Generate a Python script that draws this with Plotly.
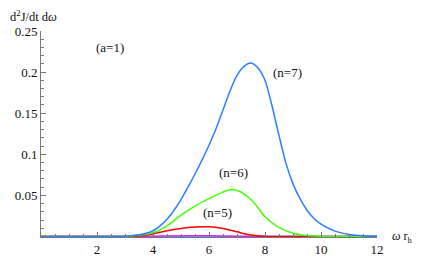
import plotly.graph_objects as go

# omega * r_h sample points and d2J/dt dw values
x_n7 = [0, 2, 2.5, 3, 3.5, 4, 4.25, 4.5, 4.75, 5, 5.25, 5.5, 5.75, 6, 6.25, 6.5, 6.75, 7, 7.25, 7.5,
        7.75, 8, 8.25, 8.5, 8.75, 9, 9.25, 9.5, 9.75, 10, 10.5, 11, 11.5, 12]
y_n7 = [0, 0, 0.0001, 0.0004, 0.002, 0.007, 0.013, 0.021, 0.032, 0.045, 0.060, 0.076, 0.093, 0.111, 0.131,
        0.154, 0.177, 0.196, 0.207, 0.211, 0.205, 0.190, 0.159, 0.123, 0.089, 0.064, 0.046, 0.032, 0.022,
        0.015, 0.0065, 0.0025, 0.0008, 0.0002]

x_n6 = [0, 2.5, 3, 3.5, 4, 4.5, 5, 5.5, 6, 6.5, 6.75, 7, 7.25, 7.5, 7.75, 8, 8.5, 9, 9.5, 10, 10.5, 12]
y_n6 = [0, 0, 0.0003, 0.0015, 0.0045, 0.013, 0.026, 0.037, 0.046, 0.054, 0.057, 0.056, 0.052, 0.045,
        0.035, 0.024, 0.011, 0.004, 0.0012, 0.0003, 0, 0]

x_n5 = [0, 3, 3.5, 4, 4.5, 5, 5.5, 6, 6.5, 7, 7.5, 8, 8.5, 12]
y_n5 = [0, 0, 0.0005, 0.003, 0.007, 0.0098, 0.0115, 0.0118, 0.0097, 0.0057, 0.0018, 0.0003, 0, 0]

x_n4 = [0, 3, 4, 5, 5.5, 6, 7, 8, 9, 12]
y_n4 = [0, 0, 0.0004, 0.0009, 0.001, 0.0009, 0.0004, 0.0001, 0, 0]

x_n3 = [0, 3, 4, 5, 6, 7, 8, 12]
y_n3 = [0, 0, 0.0001, 0.0002, 0.0002, 0.0001, 0, 0]

x_ticks = [2, 4, 6, 8, 10, 12]
y_ticks = [0.05, 0.1, 0.15, 0.2, 0.25]
y_tick_text = ["0.05", "0.1", "0.15", "0.2", "0.25"]

FONT = "Liberation Serif"

fig = go.Figure()
series = [
    (x_n3, y_n3, "#00e5ff"),
    (x_n4, y_n4, "#e020ff"),
    (x_n5, y_n5, "#ff0000"),
    (x_n6, y_n6, "#44ff00"),
    (x_n7, y_n7, "#2b7fff"),
]
for xs, ys, c in series:
    fig.add_trace(go.Scatter(x=xs, y=ys, mode="lines",
                             line=dict(color=c, width=1.5, shape="spline", smoothing=0.7),
                             showlegend=False, hoverinfo="skip"))

axis_common = dict(showgrid=False, zeroline=False, showline=True, linecolor="#777777",
                   linewidth=1, ticks="inside", tickcolor="#777777", ticklen=5, automargin=False,
                   tickfont=dict(family=FONT, size=13, color="#111111"))

fig.update_xaxes(range=[0, 12], tickvals=x_ticks, ticktext=[str(v) for v in x_ticks],
                 minor=dict(ticks="inside", dtick=0.5, ticklen=3, tickcolor="#777777"),
                 **axis_common)
fig.update_yaxes(range=[-0.0006, 0.25], tickvals=y_ticks, ticktext=y_tick_text,
                 minor=dict(ticks="inside", tickvals=[i / 100 for i in range(1, 25)], ticklen=3,
                            tickcolor="#777777"),
                 **axis_common)

ann_font = dict(family=FONT, size=13, color="#111111")
fig.add_annotation(x=2.46, y=0.230, text="(a=1)", showarrow=False, font=ann_font)
fig.add_annotation(x=8.79, y=0.199, text="(n=7)", showarrow=False, font=ann_font)
fig.add_annotation(x=6.86, y=0.078, text="(n=6)", showarrow=False, font=ann_font)
fig.add_annotation(x=6.29, y=0.029, text="(n=5)", showarrow=False, font=ann_font)
fig.add_annotation(xref="paper", yref="paper", x=0, y=1.0, xshift=-33, yshift=15, xanchor="left",
                   yanchor="middle", text="d<sup>2</sup>J/dt d<i>ω</i>", showarrow=False,
                   font=dict(family=FONT, size=12.5, color="#111111"))
fig.add_annotation(xref="paper", yref="paper", x=1.0, y=0.0, xshift=13, xanchor="left",
                   yanchor="middle", text="<i>ω</i> r<sub>h</sub>", showarrow=False,
                   font=dict(family=FONT, size=12, color="#111111"))

# the page body has an 8px margin, so the figure is sized to fit the 426x263 window
fig.update_layout(width=418, height=255, margin=dict(l=33, r=49, t=23, b=26),
                  paper_bgcolor="white", plot_bgcolor="white")

fig.write_html("out.html")
